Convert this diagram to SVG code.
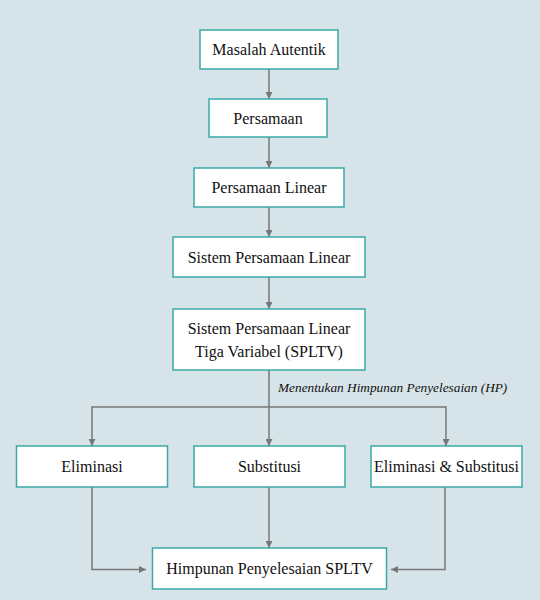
<svg xmlns="http://www.w3.org/2000/svg" width="540" height="600" viewBox="0 0 540 600">
<defs>
<marker id="ah" viewBox="0 0 10 10" refX="10" refY="5" markerWidth="7" markerHeight="7" orient="auto" markerUnits="userSpaceOnUse">
<path d="M0,0 L10,5 L0,10 z" fill="#777"/>
</marker>
<style>
.box{fill:#fff;stroke:#3aa9a6;stroke-width:1.5}
.t{font-family:'Liberation Serif','Times New Roman',serif;font-size:16px;fill:#111;text-anchor:middle}
.c{fill:none;stroke:#777;stroke-width:1.5;marker-end:url(#ah)}
.lbl{font-family:'Liberation Serif','Times New Roman',serif;font-size:13.3px;font-style:italic;fill:#111}
</style>
</defs>
<rect width="540" height="600" fill="#d6e4ea"/>
<g id="connectors">
<line class="c" x1="269" y1="69" x2="269" y2="99"/>
<line class="c" x1="269" y1="137" x2="269" y2="168"/>
<line class="c" x1="269" y1="207" x2="269" y2="237"/>
<line class="c" x1="269" y1="277" x2="269" y2="309"/>
<line class="c" x1="269" y1="370" x2="269" y2="446"/>
<path class="c" d="M269,407 H92 V446"/>
<path class="c" d="M269,407 H446 V446"/>
<line class="c" x1="269" y1="487" x2="269" y2="548"/>
<path class="c" d="M92,487 V569.5 H146"/>
<path class="c" d="M445,487 V569.5 H391"/>
<text class="lbl" x="278" y="392">Menentukan Himpunan Penyelesaian (HP)</text>
</g>
<g id="n1"><rect class="box" x="200" y="30" width="138" height="39"/><text class="t" x="269" y="55">Masalah Autentik</text></g>
<g id="n2"><rect class="box" x="209" y="99" width="118" height="38"/><text class="t" x="268" y="123.5">Persamaan</text></g>
<g id="n3"><rect class="box" x="194" y="168" width="150" height="39"/><text class="t" x="269" y="192.5">Persamaan Linear</text></g>
<g id="n4"><rect class="box" x="173" y="237" width="192" height="40"/><text class="t" x="269" y="262.5">Sistem Persamaan Linear</text></g>
<g id="n5"><rect class="box" x="173" y="309" width="192" height="61"/><text class="t" x="269" y="333.5">Sistem Persamaan Linear</text><text class="t" x="269" y="357">Tiga Variabel (SPLTV)</text></g>
<g id="n6"><rect class="box" x="16.5" y="446" width="151" height="41"/><text class="t" x="92" y="471.5">Eliminasi</text></g>
<g id="n7"><rect class="box" x="194" y="446" width="151" height="41"/><text class="t" x="269.5" y="471.5">Substitusi</text></g>
<g id="n8"><rect class="box" x="371" y="446" width="151" height="41"/><text class="t" x="446.5" y="471.5">Eliminasi &amp; Substitusi</text></g>
<g id="n9"><rect class="box" x="152.5" y="548" width="234" height="41"/><text class="t" x="269.5" y="573.5">Himpunan Penyelesaian SPLTV</text></g>
</svg>
